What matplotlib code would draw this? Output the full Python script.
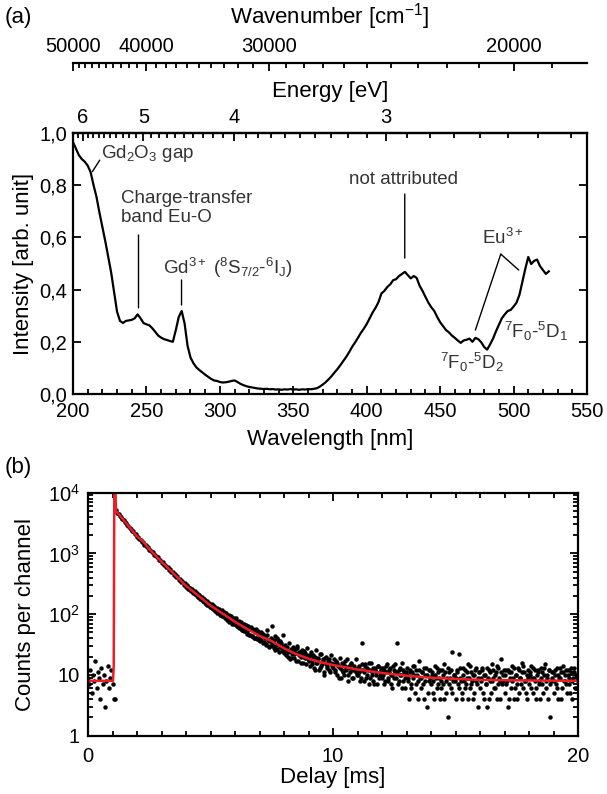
import numpy as np
import matplotlib
matplotlib.use('Agg')
import matplotlib.pyplot as plt
from matplotlib.ticker import FixedLocator, LogLocator, NullFormatter

plt.rcParams['font.family'] = ['Liberation Sans', 'DejaVu Sans']
plt.rcParams['mathtext.fontset'] = 'custom'
plt.rcParams['mathtext.rm'] = 'Liberation Sans'
plt.rcParams['mathtext.it'] = 'Liberation Sans:italic'
plt.rcParams['mathtext.default'] = 'regular'

# ---- panel (a): excitation spectrum ----
wl_nm = list(range(200, 525, 2))
intensity = [
    0.965, 0.94, 0.915, 0.90, 0.89, 0.875, 0.85, 0.80, 0.755, 0.695,
    0.64, 0.585, 0.525, 0.465, 0.39, 0.315, 0.28, 0.272, 0.28, 0.282,
    0.284, 0.29, 0.305, 0.29, 0.272, 0.267, 0.263, 0.252, 0.238, 0.224,
    0.216, 0.21, 0.207, 0.203, 0.20, 0.245, 0.295, 0.318, 0.27, 0.185,
    0.14, 0.118, 0.102, 0.092, 0.083, 0.074, 0.066, 0.058, 0.052, 0.05,
    0.046, 0.044, 0.045, 0.047, 0.05, 0.052, 0.046, 0.039, 0.034, 0.03,
    0.027, 0.025, 0.023, 0.021, 0.02, 0.019, 0.02, 0.018, 0.019, 0.017,
    0.018, 0.016, 0.018, 0.017, 0.019, 0.017, 0.018, 0.016, 0.018, 0.017,
    0.019, 0.018, 0.02, 0.022, 0.028, 0.036, 0.045, 0.056, 0.068, 0.082,
    0.095, 0.11, 0.126, 0.142, 0.16, 0.18, 0.197, 0.215, 0.234, 0.25,
    0.268, 0.29, 0.312, 0.33, 0.352, 0.385, 0.395, 0.41, 0.42, 0.436,
    0.44, 0.452, 0.46, 0.468, 0.455, 0.443, 0.452, 0.445, 0.415, 0.395,
    0.372, 0.35, 0.332, 0.318, 0.295, 0.275, 0.26, 0.245, 0.236, 0.224,
    0.215, 0.205, 0.196, 0.205, 0.208, 0.212, 0.20, 0.215, 0.21, 0.198,
    0.18, 0.17, 0.19, 0.212, 0.24, 0.265, 0.29, 0.305, 0.318, 0.322,
    0.335, 0.35, 0.38, 0.43, 0.48, 0.525, 0.498, 0.51, 0.515, 0.49,
    0.475, 0.46, 0.47,
]
int_ticks = [0.0, 0.2, 0.4, 0.6, 0.8, 1.0]
int_ticklabels = ['0,0', '0,2', '0,4', '0,6', '0,8', '1,0']
energy_ticks = [6, 5, 4, 3]
energy_minor = np.round(np.arange(2.3, 6.25, 0.1), 1)
wavenumber_ticks = [50000, 40000, 30000, 20000]
wavenumber_minor = np.arange(19000, 50001, 1000)

# ---- panel (b): decay curve ----
channel_ms = 0.05
counts = [
    # 0 - 1 ms
    9, 7, 12, 5, 10, 8, 17, 6, 11, 9, 4, 13, 7, 10, 3, 8, 14, 6, 9, 12,
    # 1 - 2 ms
    7, 4, 4, 5200, 4650, 4500, 4180, 4050, 3720, 3600,
    3310, 3220, 2950, 2880, 2640, 2570, 2360, 2300, 2100, 2060,
    # 2 - 3 ms
    1870, 1850, 1700, 1690, 1540, 1530, 1400, 1390, 1270, 1265,
    1150, 1150, 1045, 1040, 950, 950, 860, 870, 780, 790,
    # 3 - 4 ms
    705, 720, 645, 655, 590, 600, 540, 550, 490, 500,
    448, 458, 410, 418, 372, 385, 340, 350, 308, 322,
    # 4 - 5 ms
    280, 296, 262, 272, 240, 256, 224, 238, 205, 222,
    190, 206, 176, 192, 163, 178, 150, 166, 140, 153,
    # 5 - 6 ms
    132, 145, 124, 138, 117, 128, 109, 121, 101, 116,
    95, 108, 90, 104, 84, 97, 78, 92, 73, 88,
    # 6 - 7 ms
    68, 85, 64, 78, 61, 74, 55, 70, 53, 66,
    50, 63, 46, 61, 44, 58, 40, 56, 39, 52,
    # 7 - 8 ms
    36, 50, 47, 33, 44, 31, 55, 38, 29, 41,
    64, 30, 37, 26, 40, 33, 24, 36, 28, 45,
    # 8 - 9 ms
    23, 31, 27, 20, 34, 25, 19, 29, 22, 27,
    17, 30, 21, 24, 16, 26, 20, 23, 15, 28,
    # 9 - 10 ms
    19, 14, 24, 17, 21, 12, 26, 16, 19, 13,
    22, 15, 18, 11, 20, 14, 17, 12, 21, 15,
    # 10 - 11 ms
    13, 18, 11, 16, 14, 9, 19, 12, 15, 10,
    17, 13, 8, 14, 11, 16, 9, 13, 12, 18,
    # 11 - 12 ms
    10, 14, 8, 12, 33, 11, 15, 9, 13, 7,
    12, 16, 10, 8, 13, 11, 7, 14, 10, 12,
    # 12 - 13 ms
    9, 13, 7, 11, 15, 8, 12, 10, 6, 14,
    9, 11, 33, 7, 12, 10, 16, 8, 11, 6,
    # 13 - 14 ms
    13, 9, 4, 11, 7, 14, 10, 5, 12, 8,
    17, 9, 6, 11, 4, 10, 13, 3, 8, 12,
    # 14 - 15 ms
    7, 10, 5, 14, 9, 6, 11, 4, 8, 12,
    7, 15, 5, 9, 2, 11, 6, 24, 8, 10,
    # 15 - 16 ms
    4, 12, 7, 22, 9, 5, 13, 8, 6, 11,
    4, 9, 14, 7, 10, 5, 12, 8, 3, 11,
    # 16 - 17 ms
    6, 9, 13, 4, 10, 7, 3, 12, 8, 5,
    15, 9, 6, 11, 4, 13, 8, 18, 7, 10,
    # 17 - 18 ms
    5, 12, 8, 3, 11, 6, 14, 9, 4, 10,
    7, 13, 5, 9, 16, 6, 11, 8, 4, 12,
    # 18 - 19 ms
    7, 10, 14, 5, 9, 12, 6, 11, 8, 4,
    13, 7, 10, 15, 6, 9, 12, 2, 8, 11,
    # 19 - 20 ms
    5, 10, 7, 13, 4, 9, 11, 6, 14, 8,
    12, 5, 10, 7, 13, 4, 9, 11, 6, 10, 8,
]
# in-between channels (start at 4.025 ms), which thicken the band
odd_start_ms = 4.025
counts_odd = [
    # 4 - 5 ms
    300, 268, 271, 246, 252, 228, 236, 211, 219, 193,
    205, 180, 190, 168, 176, 152, 164, 142, 150, 133,
    # 5 - 6 ms
    140, 126, 131, 115, 124, 106, 117, 98, 109, 93,
    102, 86, 96, 80, 91, 75, 86, 70, 82, 68,
    # 6 - 7 ms
    78, 64, 73, 60, 70, 55, 66, 52, 62, 48,
    60, 45, 57, 43, 54, 41, 51, 40, 48, 38,
    # 7 - 8 ms
    42, 38, 47, 35, 40, 32, 45, 36, 30, 39,
    34, 28, 43, 31, 27, 37, 29, 33, 25, 30,
    # 8 - 9 ms
    26, 21, 29, 24, 18, 27, 22, 25, 19, 23,
    28, 17, 24, 20, 22, 16, 25, 19, 21, 18,
    # 9 - 10 ms
    17, 21, 15, 19, 13, 20, 16, 18, 12, 22,
    14, 17, 10, 19, 15, 13, 18, 11, 16, 14,
    # 10 - 11 ms
    15, 12, 17, 10, 14, 13, 9, 16, 11, 14,
    12, 18, 10, 13, 15, 9, 12, 14, 11, 10,
    # 11 - 12 ms
    13, 11, 9, 15, 12, 8, 14, 10, 12, 16,
    9, 11, 13, 7, 12, 10, 14, 9, 11, 13,
    # 12 - 13 ms
    10, 12, 8, 14, 9, 11, 13, 7, 10, 12,
    15, 9, 11, 8, 13, 10, 6, 12, 9, 11,
    # 13 - 14 ms
    10, 8, 12, 6, 11, 9, 14, 7, 10, 4,
    12, 9, 11, 7, 13, 8, 10, 5, 12, 9,
    # 14 - 15 ms
    11, 8, 4, 10, 13, 7, 9, 12, 6, 10,
    4, 11, 8, 13, 7, 9, 12, 5, 10, 8,
    # 15 - 16 ms
    9, 11, 6, 13, 8, 4, 10, 12, 7, 9,
    15, 6, 11, 8, 4, 10, 13, 7, 9, 11,
    # 16 - 17 ms
    8, 12, 5, 10, 7, 13, 9, 4, 11, 8,
    12, 6, 10, 14, 7, 9, 4, 11, 8, 12,
    # 17 - 18 ms
    10, 7, 12, 4, 9, 11, 8, 13, 6, 10,
    4, 12, 9, 7, 11, 14, 8, 5, 10, 9,
    # 18 - 19 ms
    11, 6, 9, 13, 8, 4, 10, 12, 7, 9,
    11, 5, 13, 8, 10, 4, 12, 7, 9, 11,
    # 19 - 20 ms
    8, 12, 6, 10, 9, 13, 4, 11, 8, 10,
    7, 12, 9, 5, 11, 8, 13, 6, 10, 9,
]
fit_ms = [0.0, 1.02, 1.05, 1.08, 1.14, 1.25, 1.5, 1.75, 2.0, 2.25, 2.5, 2.75,
          3.0, 3.25, 3.5, 3.75, 4.0, 4.5, 5.0, 5.5, 6.0, 6.5, 7.0, 7.5,
          8.0, 8.5, 9.0, 9.5, 10.0, 11.0, 12.0, 13.0, 14.0, 15.0, 16.0,
          17.0, 18.0, 20.0]
fit_counts = [8, 8, 14, 60000, 5000, 4465, 3365, 2535, 1910, 1575, 1180, 930,
              730, 582, 464, 370, 294, 202, 139, 102, 75, 57, 44, 36,
              27.5, 22, 18.5, 16.2, 14.6, 12.3, 10.8, 9.7, 9.0, 8.6, 8.3,
              8.2, 8.1, 8.0]
log_ticks = [1, 10, 100, 1000, 10000]
log_ticklabels = ['1', '10', '10$^2$', '10$^3$', '10$^4$']

TFS = 14.5   # tick labels
LFS = 16     # axis titles
AFS = 13.5   # annotations
W, H = 607, 794
fig = plt.figure(figsize=(W / 100, H / 100), dpi=100)

def frame(ax):
    for s in ax.spines.values():
        s.set_linewidth(1.6)
    ax.tick_params(which='both', direction='in', width=1.3, labelsize=TFS)
    ax.tick_params(which='major', length=6)
    ax.tick_params(which='minor', length=3.5)

# panel (a)
axa = fig.add_axes([73 / W, 1 - 394 / H, 514 / W, 261 / H])
axa.plot(wl_nm, intensity, color='black', lw=1.6)
axa.set_xlim(200, 550)
axa.set_ylim(0, 1.0)
axa.set_xticks(range(200, 551, 50))
axa.set_xticks(range(200, 551, 10), minor=True)
axa.set_yticks(int_ticks)
axa.set_yticklabels(int_ticklabels)
frame(axa)
axa.tick_params(axis='x', which='both', top=False, pad=6)
axa.tick_params(axis='y', which='both', right=True, pad=4)
axa.set_xlabel('Wavelength [nm]', fontsize=LFS)
axa.xaxis.set_label_coords(0.5, (394 - 439) / 261)
axa.xaxis.label.set_va('center')
axa.set_ylabel('Intensity [arb. unit]', fontsize=LFS)
axa.yaxis.set_label_coords((23 - 73) / 514, 0.5)
axa.yaxis.label.set_va('center')

def nm_to_other(k):
    def f(x):
        x = np.asarray(x, dtype=float)
        with np.errstate(divide='ignore', invalid='ignore'):
            return k / x
    return f

ev = axa.secondary_xaxis('top', functions=(nm_to_other(1239.84), nm_to_other(1239.84)))
ev.set_xticks(energy_ticks)
ev.set_xticklabels([str(t) for t in energy_ticks])
ev.xaxis.set_minor_locator(FixedLocator(energy_minor))
ev.xaxis.set_minor_formatter(NullFormatter())
frame(ev)
ev.tick_params(pad=4)

wn = axa.secondary_xaxis((394 - 63) / 261, functions=(nm_to_other(1e7), nm_to_other(1e7)))
wn.set_xticks(wavenumber_ticks)
wn.set_xticklabels([str(t) for t in wavenumber_ticks])
wn.xaxis.set_minor_locator(FixedLocator(wavenumber_minor))
wn.xaxis.set_minor_formatter(NullFormatter())
frame(wn)
wn.tick_params(pad=5)

axa.text(0.5, (394 - 17) / 261, 'Wavenumber [cm$^{-1}$]', transform=axa.transAxes,
         fontsize=LFS, ha='center', va='center')
axa.text(0.5, (394 - 91) / 261, 'Energy [eV]', transform=axa.transAxes,
         fontsize=LFS, ha='center', va='center')
fig.text(5 / W, 1 - 17 / H, '(a)', fontsize=LFS, ha='left', va='center')
fig.text(5 / W, 1 - 468 / H, '(b)', fontsize=LFS, ha='left', va='center')

# annotations, panel (a)
tc = '#333333'
lk = dict(arrowstyle='-', color='black', lw=1.0, shrinkA=0, shrinkB=0)
axa.annotate('', xy=(213.2, 0.852), xytext=(218.2, 0.896), arrowprops=lk)
axa.text(218.9, 0.923, 'Gd$_2$O$_3$ gap', fontsize=AFS, color=tc, ha='left', va='center')
axa.text(232.5, 0.713, 'Charge-transfer\nband Eu-O', fontsize=AFS, color=tc,
         ha='left', va='center', linespacing=1.1)
axa.annotate('', xy=(244.6, 0.33), xytext=(244.6, 0.609), arrowprops=lk)
axa.text(261.2, 0.483, 'Gd$^{3+}$ ($^8$S$_{7/2}$-$^6$I$_J$)', fontsize=AFS, color=tc,
         ha='left', va='center')
axa.annotate('', xy=(273.9, 0.341), xytext=(273.9, 0.437), arrowprops=lk)
axa.text(425, 0.82, 'not attributed', fontsize=AFS, color=tc, ha='center', va='center')
axa.annotate('', xy=(425.9, 0.521), xytext=(425.9, 0.766), arrowprops=lk)
axa.text(478.6, 0.598, 'Eu$^{3+}$', fontsize=AFS, color=tc, ha='left', va='center')
axa.annotate('', xy=(474.0, 0.245), xytext=(491.3, 0.536), arrowprops=lk)
axa.annotate('', xy=(503.5, 0.475), xytext=(491.3, 0.536), arrowprops=lk)
axa.text(493.8, 0.239, '$^7$F$_0$-$^5$D$_1$', fontsize=AFS, color=tc, ha='left', va='center')
axa.text(450.1, 0.119, '$^7$F$_0$-$^5$D$_2$', fontsize=AFS, color=tc, ha='left', va='center')

# panel (b)
axb = fig.add_axes([88 / W, 1 - 735.7 / H, 490 / W, 243 / H])
delay = np.arange(len(counts)) * channel_ms
delay_odd = odd_start_ms + np.arange(len(counts_odd)) * channel_ms
axb.plot(delay, counts, 'o', color='black', ms=3.2, mew=0)
axb.plot(delay_odd, counts_odd, 'o', color='black', ms=3.2, mew=0)
axb.plot(fit_ms, fit_counts, color='#ee1c24', lw=1.8)
axb.set_yscale('log')
axb.set_xlim(0, 20)
axb.set_ylim(1, 10000)
axb.set_xticks([0, 10, 20])
axb.set_xticks(range(0, 21), minor=True)
axb.set_yticks(log_ticks)
axb.set_yticklabels(log_ticklabels)
axb.yaxis.set_minor_locator(LogLocator(base=10, subs=np.arange(2, 10)))
axb.yaxis.set_minor_formatter(NullFormatter())
frame(axb)
axb.tick_params(which='both', top=True, right=True)
axb.tick_params(axis='x', pad=8)
axb.tick_params(axis='y', pad=6)
axb.set_xlabel('Delay [ms]', fontsize=LFS)
axb.xaxis.set_label_coords(0.5, (735.7 - 778) / 243)
axb.xaxis.label.set_va('center')
axb.set_ylabel('Counts per channel', fontsize=LFS)
axb.yaxis.set_label_coords((25 - 88) / 490, 0.5)
axb.yaxis.label.set_va('center')

fig.savefig('out.png', dpi=100)
